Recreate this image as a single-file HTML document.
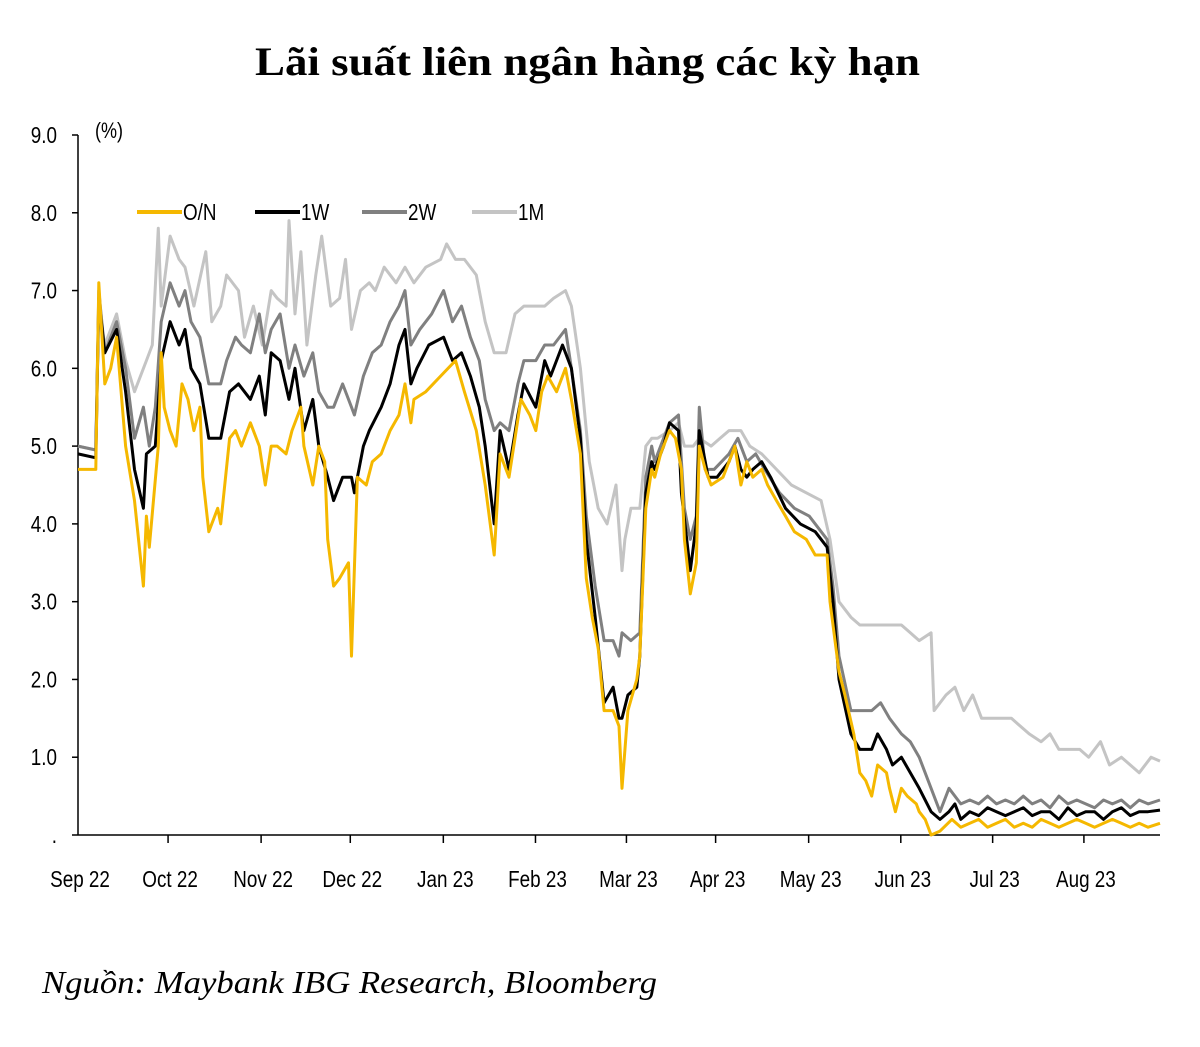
<!DOCTYPE html>
<html><head><meta charset="utf-8"><style>
body{margin:0;background:#fff;width:1200px;height:1047px;overflow:hidden}
svg{display:block}
</style></head><body>
<svg id="chart" width="1200" height="1047">
<text x="255" y="75" textLength="665" lengthAdjust="spacingAndGlyphs" font-family="'Liberation Serif',serif" font-weight="bold" font-size="40">Lãi suất liên ngân hàng các kỳ hạn</text>
<text x="0" y="0" font-family="'Liberation Sans',sans-serif" font-size="22" transform="translate(95,138) scale(0.82,1)">(%)</text>
<text x="42" y="993" textLength="615" lengthAdjust="spacingAndGlyphs" font-family="'Liberation Serif',serif" font-style="italic" font-size="32">Nguồn: Maybank IBG Research, Bloomberg</text>
<g id="axes"></g>
<g id="series"></g>
<g id="legend"></g>
</svg>
<script>
const yTicks=[0,1,2,3,4,5,6,7,8,9];
const yTickLabels=[".","1.0","2.0","3.0","4.0","5.0","6.0","7.0","8.0","9.0"];
const monthDays=[0,30.3,61.6,91.6,122.9,153.9,184.5,214.5,245.8,276.8,307.7,338.4];
const monthLabels=["Sep 22","Oct 22","Nov 22","Dec 22","Jan 23","Feb 23","Mar 23","Apr 23","May 23","Jun 23","Jul 23","Aug 23"];
const seriesNames=["O/N","1W","2W","1M"];
const onDays=[0,6,7,9,11,13,16,19,22,23,24,27,28,29,31,33,35,37,39,41,42,44,47,48,51,53,55,58,61,63,65,67,70,72,75,76,79,81,83,84,86,88,91,92,94,97,99,102,105,108,110,112,113,117,122,127,130,134,137,140,142,145,147,149,152,154,156,158,161,164,166,169,171,173,175,177,180,182,183,185,188,189,191,193,194,196,199,201,203,204,206,208,209,211,213,217,220,221,223,225,227,230,232,235,238,241,245,248,252,253,256,258,261,263,265,267,269,272,273,275,277,279,282,283,285,287,290,294,297,300,303,306,309,312,315,318,321,324,327,330,333,336,339,342,345,348,351,354,357,360,364];
const onVals=[4.7,4.7,7.1,5.8,6.0,6.4,5.0,4.3,3.2,4.1,3.7,5.0,6.2,5.5,5.2,5.0,5.8,5.6,5.2,5.5,4.6,3.9,4.2,4.0,5.1,5.2,5.0,5.3,5.0,4.5,5.0,5.0,4.9,5.2,5.5,5.0,4.5,5.0,4.8,3.8,3.2,3.3,3.5,2.3,4.6,4.5,4.8,4.9,5.2,5.4,5.8,5.3,5.6,5.7,5.9,6.1,5.7,5.2,4.5,3.6,4.9,4.6,5.1,5.6,5.4,5.2,5.7,5.9,5.7,6.0,5.6,4.9,3.3,2.8,2.4,1.6,1.6,1.4,0.6,1.6,2.0,2.3,4.2,4.7,4.6,4.9,5.2,5.1,4.7,3.8,3.1,3.5,5.0,4.7,4.5,4.6,4.9,5.0,4.5,4.8,4.6,4.7,4.5,4.3,4.1,3.9,3.8,3.6,3.6,3.0,2.1,1.8,1.3,0.8,0.7,0.5,0.9,0.8,0.6,0.3,0.6,0.5,0.4,0.3,0.2,0.0,0.05,0.2,0.1,0.15,0.2,0.1,0.15,0.2,0.1,0.15,0.1,0.2,0.15,0.1,0.15,0.2,0.15,0.1,0.15,0.2,0.15,0.1,0.15,0.1,0.15];
const w1Days=[0,6,7,9,13,16,19,22,23,26,28,31,34,36,38,41,44,48,51,54,58,61,63,65,68,71,73,76,79,81,84,86,89,92,93,96,98,102,105,108,110,112,114,118,123,126,129,132,135,137,140,142,145,148,150,154,157,159,163,166,169,171,174,177,180,182,183,185,188,189,191,193,194,197,199,202,203,206,208,209,212,215,219,221,223,225,227,230,233,238,243,248,252,254,256,260,263,267,269,272,274,277,280,283,287,290,293,295,297,300,303,306,309,312,315,318,321,324,327,330,333,336,339,342,345,348,351,354,357,360,364];
const w1Vals=[4.9,4.85,6.9,6.2,6.5,5.7,4.7,4.2,4.9,5.0,6.1,6.6,6.3,6.5,6.0,5.8,5.1,5.1,5.7,5.8,5.6,5.9,5.4,6.2,6.1,5.6,6.0,5.2,5.6,5.0,4.6,4.3,4.6,4.6,4.4,5.0,5.2,5.5,5.8,6.3,6.5,5.8,6.0,6.3,6.4,6.1,6.2,5.9,5.5,5.0,4.0,5.2,4.7,5.4,5.8,5.5,6.1,5.9,6.3,6.0,5.1,3.8,2.8,1.7,1.9,1.5,1.5,1.8,1.9,2.3,4.4,4.8,4.7,5.0,5.3,5.2,4.4,3.4,4.0,5.2,4.6,4.6,4.8,5.0,4.7,4.6,4.7,4.8,4.6,4.2,4.0,3.9,3.7,3.0,2.0,1.3,1.1,1.1,1.3,1.1,0.9,1.0,0.8,0.6,0.3,0.2,0.3,0.4,0.2,0.3,0.25,0.35,0.3,0.25,0.3,0.35,0.25,0.3,0.3,0.2,0.35,0.25,0.3,0.3,0.2,0.3,0.35,0.25,0.3,0.3,0.32];
const w2Days=[0,6,7,9,13,16,19,22,24,26,28,31,34,36,38,41,44,48,50,53,55,58,61,63,65,68,71,73,76,79,81,84,86,89,92,93,96,99,102,105,108,110,112,115,119,123,126,129,132,135,137,140,142,145,148,150,154,157,160,164,166,169,171,174,177,180,182,183,186,189,191,193,194,197,199,202,204,206,208,209,211,214,219,222,225,228,231,236,241,246,252,254,256,260,263,267,270,273,277,280,283,287,290,293,297,300,303,306,309,312,315,318,321,324,327,330,333,336,339,342,345,348,351,354,357,360,364];
const w2Vals=[5.0,4.95,7.0,6.2,6.6,6.0,5.1,5.5,5.0,5.5,6.6,7.1,6.8,7.0,6.6,6.4,5.8,5.8,6.1,6.4,6.3,6.2,6.7,6.2,6.5,6.7,6.0,6.3,5.9,6.2,5.7,5.5,5.5,5.8,5.5,5.4,5.9,6.2,6.3,6.6,6.8,7.0,6.3,6.5,6.7,7.0,6.6,6.8,6.4,6.1,5.6,5.2,5.3,5.2,5.8,6.1,6.1,6.3,6.3,6.5,6.0,5.2,4.1,3.2,2.5,2.5,2.3,2.6,2.5,2.6,4.6,5.0,4.8,5.1,5.3,5.4,4.2,3.8,4.1,5.5,4.7,4.7,4.9,5.1,4.8,4.9,4.7,4.4,4.2,4.1,3.8,3.2,2.3,1.6,1.6,1.6,1.7,1.5,1.3,1.2,1.0,0.6,0.3,0.6,0.4,0.45,0.4,0.5,0.4,0.45,0.4,0.5,0.4,0.45,0.35,0.5,0.4,0.45,0.4,0.35,0.45,0.4,0.45,0.35,0.45,0.4,0.45];
const m1Days=[0,6,7,9,13,16,19,23,25,27,28,31,34,36,39,43,45,48,50,54,56,59,62,65,67,70,71,73,75,77,80,82,85,88,90,92,95,98,100,103,107,110,113,117,122,124,127,130,134,137,140,144,147,150,154,157,160,164,166,169,172,175,178,181,183,184,186,189,191,193,195,199,202,204,207,209,213,216,219,223,226,230,235,240,245,250,253,256,260,263,267,270,273,277,280,283,287,288,292,295,298,301,304,307,310,314,317,320,324,327,330,334,337,340,344,347,351,354,357,361,364];
const m1Vals=[5.0,4.95,6.8,6.3,6.7,6.1,5.7,6.1,6.3,7.8,6.8,7.7,7.4,7.3,6.8,7.5,6.6,6.8,7.2,7.0,6.4,6.8,6.3,7.0,6.9,6.8,7.9,6.7,7.5,6.3,7.2,7.7,6.8,6.9,7.4,6.5,7.0,7.1,7.0,7.3,7.1,7.3,7.1,7.3,7.4,7.6,7.4,7.4,7.2,6.6,6.2,6.2,6.7,6.8,6.8,6.8,6.9,7.0,6.8,6.0,4.8,4.2,4.0,4.5,3.4,3.8,4.2,4.2,5.0,5.1,5.1,5.2,5.3,5.0,5.0,5.1,5.0,5.1,5.2,5.2,5.0,4.9,4.7,4.5,4.4,4.3,3.8,3.0,2.8,2.7,2.7,2.7,2.7,2.7,2.6,2.5,2.6,1.6,1.8,1.9,1.6,1.8,1.5,1.5,1.5,1.5,1.4,1.3,1.2,1.3,1.1,1.1,1.1,1.0,1.2,0.9,1.0,0.9,0.8,1.0,0.95];

const X0=78,X1=1160,Y0=835,Y9=135;
const xS=d=>X0+d*(X1-X0)/364;
const yS=v=>Y0-v*(Y0-Y9)/9;
const NS="http://www.w3.org/2000/svg";
const mk=(t,a,p)=>{const e=document.createElementNS(NS,t);for(const k in a)e.setAttribute(k,a[k]);p.appendChild(e);return e;};
const axes=document.getElementById('axes');
const font="'Liberation Sans',sans-serif";
let yl=mk('line',{x1:X0,y1:Y9,x2:X0,y2:Y0,stroke:'#000','stroke-width':1.5},axes);


let xl=mk('line',{x1:X0,y1:Y0,x2:X1,y2:Y0,stroke:'#000','stroke-width':1.5},axes);


yTicks.forEach((v,i)=>{
  const y=yS(v);
  mk('line',{x1:X0-6,y1:y,x2:X0,y2:y,stroke:'#000','stroke-width':1.5},axes);
  const t=mk('text',{x:0,y:0,'font-family':font,'font-size':23,'text-anchor':'end',transform:`translate(57,${y+8}) scale(0.82,1)`},axes);
  t.textContent=yTickLabels[i];
  
  
});
monthDays.forEach((d,i)=>{
  const x=xS(d);
  if(i>0)mk('line',{x1:x,y1:Y0,x2:x,y2:Y0+8,stroke:'#000','stroke-width':1.5},axes);
  const t=mk('text',{x:0,y:0,'font-family':font,'font-size':23,'text-anchor':'middle',transform:`translate(${x+2},887) scale(0.82,1)`},axes);
  t.textContent=monthLabels[i];
  
  
});
const ser=document.getElementById('series');
const sets=[[m1Days,m1Vals,'#c4c4c4','series-1m'],[w2Days,w2Vals,'#808080','series-2w'],[w1Days,w1Vals,'#000000','series-1w'],[onDays,onVals,'#f5b800','series-on']];
sets.forEach(s=>{
  const pts=s[0].map((d,i)=>xS(d).toFixed(1)+','+yS(s[1][i]).toFixed(1)).join(' ');
  const p=mk('polyline',{points:pts,fill:'none',stroke:s[2],'stroke-width':3,'stroke-linejoin':'round'},ser);
  
  
});
const leg=document.getElementById('legend');
const legCols=['#f5b800','#000000','#808080','#c4c4c4'];
const legX=[137,255,362,472];
seriesNames.forEach((n,i)=>{
  const g=mk('g',{},leg);
  
  
  mk('line',{x1:legX[i],y1:212,x2:legX[i]+45,y2:212,stroke:legCols[i],'stroke-width':4},g);
  const t=mk('text',{x:0,y:0,'font-family':font,'font-size':23,transform:`translate(${legX[i]+46},220) scale(0.82,1)`},g);
  t.textContent=n;
});
</script>
</body></html>
